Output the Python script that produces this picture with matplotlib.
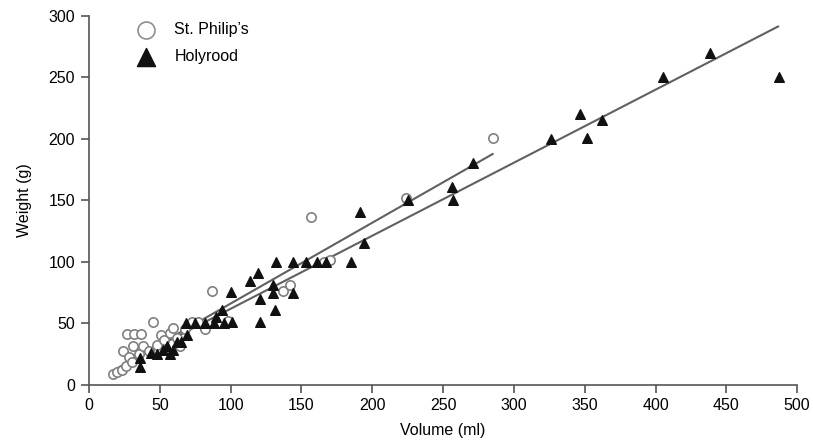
import matplotlib.pyplot as plt
import numpy as np

plt.rcParams['font.family'] = ['Liberation Sans', 'DejaVu Sans']

# St. Philip's (circles)
phil_vol = [17, 20, 23, 24, 26, 28, 27, 30, 31, 32, 37, 35, 38, 42, 45, 48, 51, 53,
            57, 59, 62, 64, 68, 72.5, 77, 82, 87, 98, 137, 142, 157, 166, 170, 224, 285]
phil_wt = [8.5, 10, 12, 27, 15, 22, 41, 18, 31, 41, 41, 25, 31, 27, 51, 32, 40, 36,
           42, 46, 38, 31, 45, 51, 51, 45, 76, 52, 76, 81, 136, 100, 101, 152, 201]

# Holyrood (triangles)
holy_vol = [36, 36, 44, 48, 52, 55, 57, 59, 62, 65, 69, 68.5, 75, 82, 88, 90, 94,
            95, 101, 100, 114, 119, 121, 121, 130, 130, 131, 132, 144, 144, 153,
            161, 167, 185, 191, 194, 225, 256, 257, 271, 326, 347, 351.5, 362, 405,
            438.5, 487.5]
holy_wt = [14.5, 21.5, 25.5, 25, 28, 31, 25, 28, 35, 35, 40, 50, 50, 50, 50, 55, 61,
           50, 51, 75.5, 84.5, 91, 70, 51, 81, 74.5, 61, 100, 74.5, 100, 100, 100,
           100, 100, 140.5, 115, 150, 161, 150, 180, 200, 220, 200.5, 215, 250, 270,
           250]

# fitted lines (intercept, slope, x range)
phil_fit = (0.1, 0.658, [20, 285])
holy_fit = (2.2, 0.5945, [30, 486.5])

fig = plt.figure(figsize=(8.13, 4.44), dpi=100)
ax = fig.add_axes([0.1095, 0.134, 0.871, 0.83])

grey = '#606060'
for b, m, xr in [phil_fit, holy_fit]:
    xs = np.array(xr)
    ax.plot(xs, b + m * xs, color=grey, lw=1.5, zorder=1)

ax.scatter(phil_vol, phil_wt, s=45, facecolors='white', edgecolors='#808080',
           linewidths=1.2, zorder=2, clip_on=False)
ax.scatter(holy_vol, holy_wt, s=48, marker='^', color='#111111', zorder=3,
           clip_on=False)

h1 = ax.scatter([], [], s=150, facecolors='white', edgecolors='#909090', linewidths=1.2)
h2 = ax.scatter([], [], s=170, marker='^', color='#111111')
ax.legend([h1, h2], ["St. Philip\u2019s", 'Holyrood'], loc='upper left',
          bbox_to_anchor=(0.045, 1.01), frameon=False, fontsize=11.5,
          handletextpad=0.75, labelspacing=0.75, borderaxespad=0.2)

ax.set_xlim(0, 500)
ax.set_ylim(0, 300)
ax.set_xticks(np.arange(0, 501, 50))
ax.set_yticks(np.arange(0, 301, 50))
for s in ['top', 'right']:
    ax.spines[s].set_visible(False)
for s in ['left', 'bottom']:
    ax.spines[s].set_color('#555555')
    ax.spines[s].set_linewidth(1.2)
ax.tick_params(direction='out', length=6, width=1.2, color='#555555',
               labelsize=11.5, pad=4)
ax.set_xlabel('Volume (ml)', fontsize=11.5, labelpad=7)
ax.set_ylabel('Weight (g)', fontsize=11.5, labelpad=12)

fig.savefig('out.png', dpi=100)
